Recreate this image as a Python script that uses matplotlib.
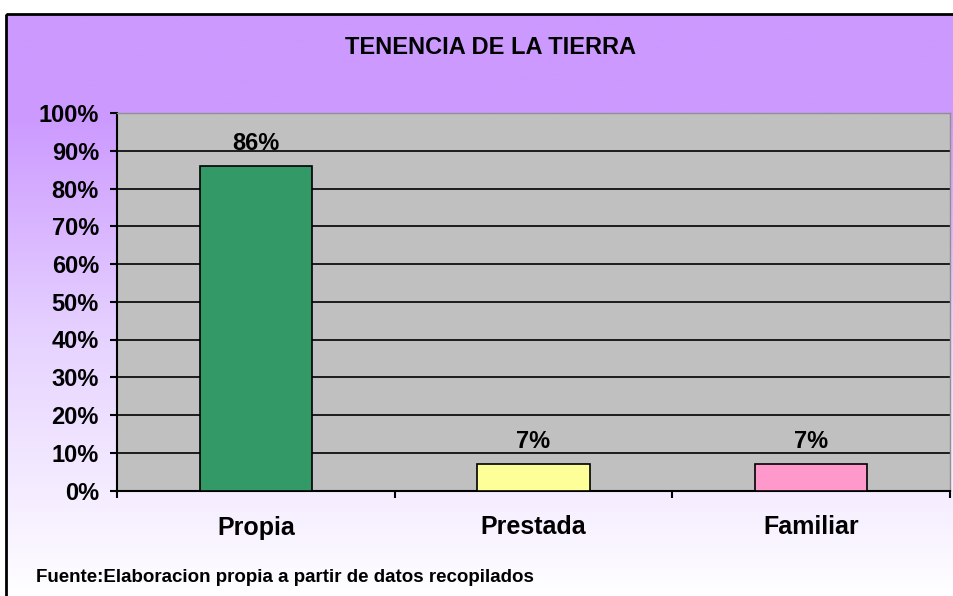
import numpy as np
import matplotlib
matplotlib.use("Agg")
import matplotlib.pyplot as plt
from matplotlib.colors import LinearSegmentedColormap
from matplotlib.patches import Rectangle
from matplotlib.ticker import FixedLocator

# Data
categories = ["Propia", "Prestada", "Familiar"]
values = [86, 7, 7]
bar_colors = ["#339966", "#FFFF99", "#FF99CC"]
title = "TENENCIA DE LA TIERRA"
source = "Fuente:Elaboracion propia a partir de datos recopilados"

plt.rcParams['font.family'] = ['Liberation Sans', 'DejaVu Sans']

W, H = 954, 596
fig = plt.figure(figsize=(W / 100, H / 100), dpi=100)

# background: purple to white gradient inside a black frame
bg = fig.add_axes([0, 0, 1, 1])
bg.set_xlim(0, W)
bg.set_ylim(H, 0)
bg.axis("off")
cmap = LinearSegmentedColormap.from_list(
    "bg", [(0.0, "#CC99FF"), (0.17, "#CC99FF"), (0.55, "#E6D2FF"), (1.0, "#FFFFFF")])
grad = np.linspace(0, 1, 256).reshape(-1, 1)
bg.imshow(grad, cmap=cmap, aspect="auto", extent=(6, W + 5, H + 5, 14), zorder=0)
bg.add_patch(Rectangle((6, 14), W + 10, H + 10, fill=False, lw=2, ec="black", zorder=1))
bg.text(491, 47, title, ha="center", va="center", fontsize=17, fontweight="bold")
bg.text(36, 578, source, ha="left", va="center", fontsize=13.5, fontweight="bold")

# plot area
x0, x1, y0, y1 = 117, 950, 113, 490.5
ax = fig.add_axes([x0 / W, 1 - y1 / H, (x1 - x0) / W, (y1 - y0) / H])
ax.set_facecolor("#C0C0C0")
ax.set_xlim(0, 3)
ax.set_ylim(0, 100)

pos = np.arange(len(categories)) + 0.5
bars = ax.bar(pos, values, width=0.405, color=bar_colors, edgecolor="black", linewidth=1.2, zorder=3)
for b, v in zip(bars, values):
    ax.annotate(f"{v}%", (b.get_x() + b.get_width() / 2, v), xytext=(0, 8),
                textcoords="offset points", ha="center", va="bottom",
                fontsize=17, fontweight="bold")

ax.set_yticks(np.arange(0, 101, 10))
ax.set_yticklabels([f"{t}%" for t in range(0, 101, 10)], fontsize=17, fontweight="bold")
ax.yaxis.grid(True, color="black", linewidth=1.2, zorder=1)
ax.set_axisbelow(True)

ax.xaxis.set_major_locator(FixedLocator([0, 1, 2, 3]))
ax.xaxis.set_minor_locator(FixedLocator(pos))
ax.set_xticklabels([])
ax.set_xticklabels(categories, minor=True, fontsize=18, fontweight="bold")
ax.tick_params(axis="x", which="minor", length=0, pad=18)
ax.tick_params(axis="x", which="major", length=5, width=1.5, direction="out")
ax.tick_params(axis="y", length=5, width=1.5, direction="out", pad=8)

for s in ["left", "bottom"]:
    ax.spines[s].set_linewidth(1.5)
    ax.spines[s].set_color("black")
for s in ["top", "right"]:
    ax.spines[s].set_linewidth(1)
    ax.spines[s].set_color("#909090")

fig.savefig("out.png", dpi=100)
